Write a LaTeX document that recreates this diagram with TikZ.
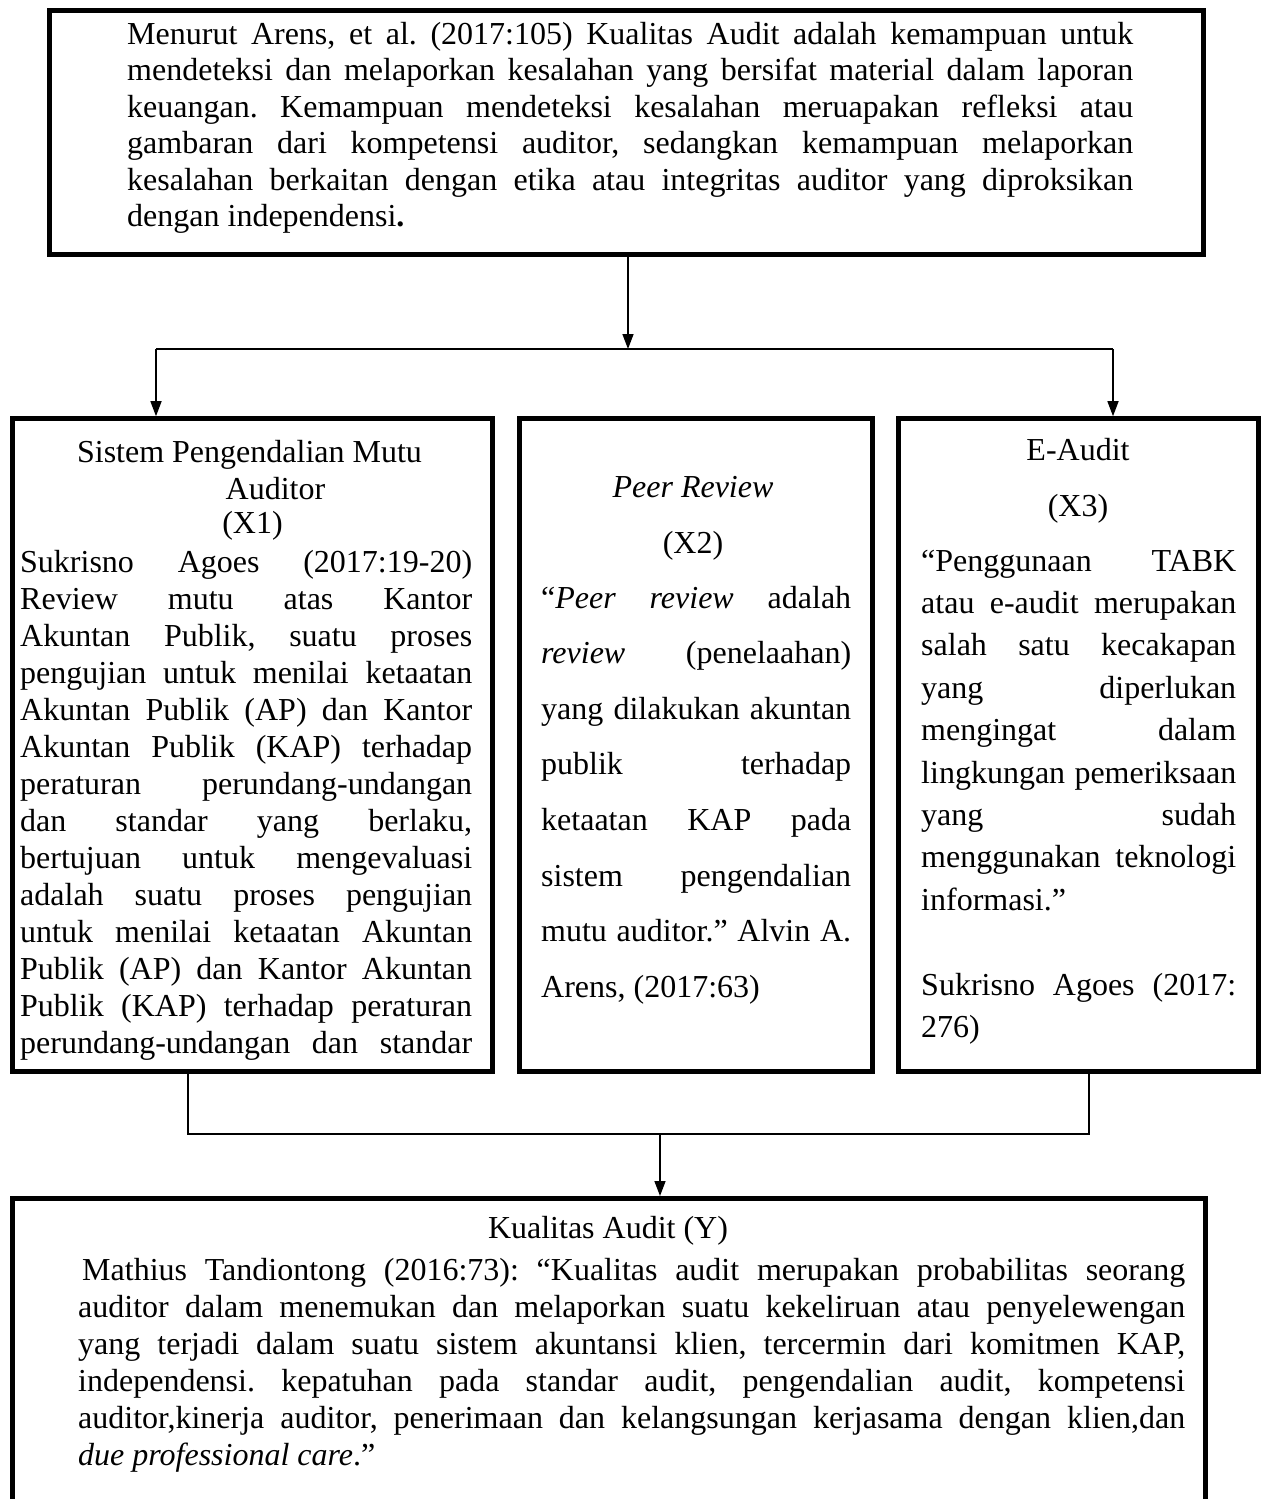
\documentclass[tikz,border=0pt]{standalone}
\usepackage{fontspec}
\setmainfont{Liberation Serif}
\usetikzlibrary{arrows.meta}
\newcommand{\fsz}{\fontsize{32}{37}\selectfont\frenchspacing}
\newcommand{\mkJ}[5]{\node[txt] (#1) at (#2,#3) {\makebox[#4pt][s]{#5}};}
\newcommand{\mkL}[4]{\node[txt] (#1) at (#2,#3) {#4};}
\newcommand{\mkC}[4]{\node[ctxt] (#1) at (#2,#3) {#4};}
\begin{document}
\begin{tikzpicture}[x=1pt,y=-1pt,
  box/.style={draw=black,line width=5pt,inner sep=0pt,rectangle},
  txt/.style={inner sep=0pt,anchor=base west,font=\fsz},
  ctxt/.style={inner sep=0pt,anchor=base,font=\fsz},
  conn/.style={line width=1.5pt},
  arr/.style={conn,-{Triangle[length=15pt,width=11pt]}}]
\useasboundingbox (0,0) rectangle (1264,1499);
\fill[white] (0,0) rectangle (1264,1499);

% boxes
\node[box,minimum width=1154.5pt,minimum height=244pt] (top) at (626.25,132) {};
\node[box,minimum width=480pt,minimum height=652.3pt] (b1) at (252,744.85) {};
\node[box,minimum width=353pt,minimum height=652.3pt] (b2) at (695.5,744.85) {};
\node[box,minimum width=360pt,minimum height=652.3pt] (b3) at (1078,744.85) {};
\node[box,minimum width=1193pt,minimum height=341.5pt] (bot) at (608.5,1369.25) {};

% top text
\mkJ{t1}{127}{44}{1006}{Menurut Arens, et al. (2017:105) Kualitas Audit adalah kemampuan untuk}
\mkJ{t2}{127}{80.5}{1006}{mendeteksi dan melaporkan kesalahan yang bersifat material dalam laporan}
\mkJ{t3}{127}{117}{1006}{keuangan. Kemampuan mendeteksi kesalahan meruapakan refleksi atau}
\mkJ{t4}{127}{153.5}{1006}{gambaran dari kompetensi auditor, sedangkan kemampuan melaporkan}
\mkJ{t5}{127}{190}{1006}{kesalahan berkaitan dengan etika atau integritas auditor yang diproksikan}
\mkL{t6}{127}{226.5}{dengan independensi\textbf{.}}

% left box text
\mkC{l1}{249.5}{462.5}{Sistem Pengendalian Mutu}
\mkC{l2}{275.5}{499}{Auditor}
\mkC{l3}{252.5}{533}{(X1)}
\mkJ{la}{20}{572}{452}{Sukrisno Agoes (2017:19-20)}
\mkJ{lb}{20}{609}{452}{Review mutu atas Kantor}
\mkJ{lc}{20}{646}{452}{Akuntan Publik, suatu proses}
\mkJ{ld}{20}{683}{452}{pengujian untuk menilai ketaatan}
\mkJ{le}{20}{720}{452}{Akuntan Publik (AP) dan Kantor}
\mkJ{lf}{20}{757}{452}{Akuntan Publik (KAP) terhadap}
\mkJ{lg}{20}{794}{452}{peraturan perundang-undangan}
\mkJ{lh}{20}{831}{452}{dan standar yang berlaku,}
\mkJ{li}{20}{868}{452}{bertujuan untuk mengevaluasi}
\mkJ{lj}{20}{905}{452}{adalah suatu proses pengujian}
\mkJ{lk}{20}{942}{452}{untuk menilai ketaatan Akuntan}
\mkJ{ll}{20}{979}{452}{Publik (AP) dan Kantor Akuntan}
\mkJ{lm}{20}{1016}{452}{Publik (KAP) terhadap peraturan}
\mkJ{ln}{20}{1053}{452}{perundang-undangan dan standar}

% middle box text
\mkC{m1}{693}{497}{\textit{Peer Review}}
\mkC{m2}{693}{553}{(X2)}
\mkJ{ma}{541}{608}{310}{“\textit{Peer review} adalah}
\mkJ{mb}{541}{663.6}{310}{\textit{review} (penelaahan)}
\mkJ{mc}{541}{719.2}{310}{yang dilakukan akuntan}
\mkJ{md}{541}{774.8}{310}{publik terhadap}
\mkJ{me}{541}{830.4}{310}{ketaatan KAP pada}
\mkJ{mf}{541}{886}{310}{sistem pengendalian}
\mkJ{mg}{541}{941.6}{310}{mutu auditor.” Alvin A.}
\mkL{mh}{541}{997.2}{Arens, (2017:63)}

% right box text
\mkC{r1}{1078}{460}{E-Audit}
\mkC{r2}{1078}{516}{(X3)}
\mkJ{ra}{921}{571}{315}{“Penggunaan TABK}
\mkJ{rb}{921}{613.4}{315}{atau e-audit merupakan}
\mkJ{rc}{921}{655.8}{315}{salah satu kecakapan}
\mkJ{rd}{921}{698.2}{315}{yang diperlukan}
\mkJ{re}{921}{740.6}{315}{mengingat dalam}
\mkJ{rf}{921}{783}{315}{lingkungan pemeriksaan}
\mkJ{rg}{921}{825.4}{315}{yang sudah}
\mkJ{rh}{921}{867.8}{315}{menggunakan teknologi}
\mkL{ri}{921}{910.2}{informasi.”}
\mkJ{rj}{921}{995}{315}{Sukrisno Agoes (2017:}
\mkL{rk}{921}{1037.4}{276)}

% bottom box text
\mkC{y0}{608}{1238}{Kualitas Audit (Y)}
\mkJ{ya}{82}{1280}{1103}{Mathius Tandiontong (2016:73): “Kualitas audit merupakan probabilitas seorang}
\mkJ{yb}{78}{1317}{1107}{auditor dalam menemukan dan melaporkan suatu kekeliruan atau penyelewengan}
\mkJ{yc}{78}{1354}{1107}{yang terjadi dalam suatu sistem akuntansi klien, tercermin dari komitmen KAP,}
\mkJ{yd}{78}{1391}{1107}{independensi. kepatuhan pada standar audit, pengendalian audit, kompetensi}
\mkJ{ye}{78}{1428}{1107}{auditor,kinerja auditor, penerimaan dan kelangsungan kerjasama dengan klien,dan}
\mkL{yf}{78}{1465}{\textit{due professional care}.”}

% connectors
\coordinate (sp) at (628,349);
\coordinate (lj) at (156,349);
\coordinate (rj) at (1113,349);
\draw[arr] (top.south -| sp) -- (sp);
\draw[conn] (lj) -- (rj);
\draw[arr] (lj) -- (lj |- b1.north);
\draw[arr] (rj) -- (rj |- b3.north);

\coordinate (jl) at (188,1134);
\coordinate (jr) at (1089,1134);
\coordinate (jm) at (660,1134);
\draw[conn] (jl |- b1.south) -- (jl) -- (jr) -- (jr |- b3.south);
\draw[arr] (jm) -- (jm |- bot.north);
\end{tikzpicture}
\end{document}
